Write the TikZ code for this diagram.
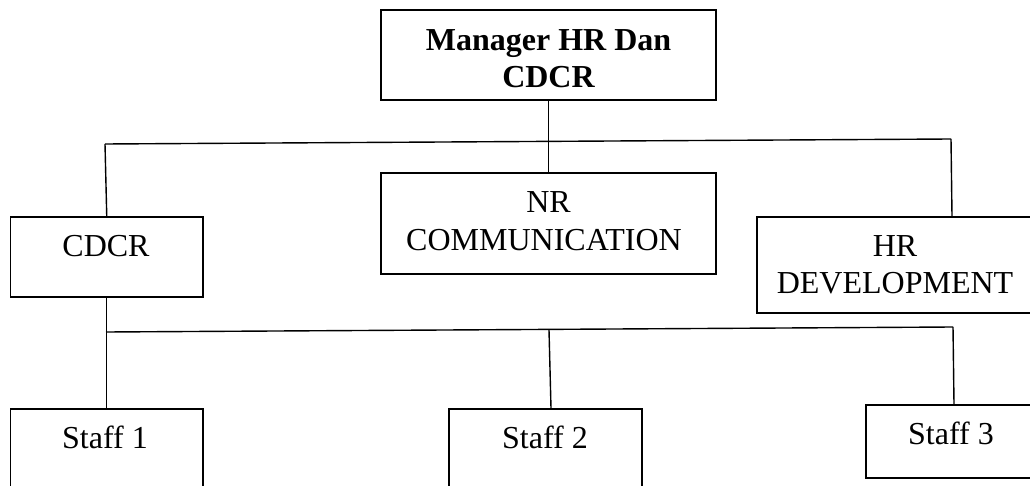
\documentclass[tikz,border=0pt]{standalone}
\usepackage{fontspec}
\setmainfont{Liberation Serif}
\begin{document}
\begin{tikzpicture}[x=1pt,y=-1pt,
  box/.style={draw=black,line width=1.6pt,rectangle,inner sep=0pt,minimum width=#1},
  lbl/.style={anchor=base,inner sep=0pt,font=\fontsize{32}{38}\selectfont},
  boldlbl/.style={lbl,font=\fontsize{32}{38}\selectfont\bfseries},
  wire/.style={draw=black,line width=1.4pt}]
\useasboundingbox (0,0) rectangle (1030,486);
\clip (0,0) rectangle (1030,486);

% boxes
\node[box=335pt,minimum height=90pt]  (mgr)   at (548.5,55)    {};
\node[box=335pt,minimum height=101pt] (nr)    at (548.5,223.5) {};
\node[box=192.5pt,minimum height=80pt] (cdcr) at (106.75,257)  {};
\node[box=276pt,minimum height=96pt]  (hrdev) at (895,265)     {};
\node[box=192.5pt,minimum height=91pt] (s1)   at (106.75,454.5) {};
\node[box=193pt,minimum height=91pt]  (s2)    at (545.5,454.5) {};
\node[box=170pt,minimum height=73pt]  (s3)    at (951,441.5)   {};

% labels
\node[boldlbl] (mgrA) at (548.5,51) {Manager HR Dan};
\node[boldlbl] (mgrB) at (548.5,88) {CDCR};
\node[lbl] (nrA) at (548.5,213) {NR};
\node[lbl] (nrB) at (544,251) {COMMUNICATION};
\node[lbl] (cdcrA) at (106,257) {CDCR};
\node[lbl] (hrA) at (895,257) {HR};
\node[lbl] (hrB) at (895,293) {DEVELOPMENT};
\node[lbl] (s1A) at (105,448) {Staff 1};
\node[lbl] (s2A) at (545,448) {Staff 2};
\node[lbl] (s3A) at (951,444) {Staff 3};

% upper level connectors
\coordinate (tl) at (105,144);
\coordinate (tr) at (951,139);
\draw[wire] (tl) -- (tr);
\draw[wire] (mgr.south) -- (nr.north);
\draw[wire] (tl) -- (cdcr.north);
\draw[wire] (tr) -- ([xshift=1pt]tr |- hrdev.north);

% lower level connectors
\coordinate (bl) at (106,332);
\coordinate (br) at (953,327);
\coordinate (bm) at (549,330);
\draw[wire] (bl) -- (br);
\draw[wire] (cdcr.south) -- (s1.north);
\draw[wire] (bm) -- ([xshift=5.5pt]s2.north);
\draw[wire] (br) -- ([xshift=3pt]s3.north);
\end{tikzpicture}
\end{document}
